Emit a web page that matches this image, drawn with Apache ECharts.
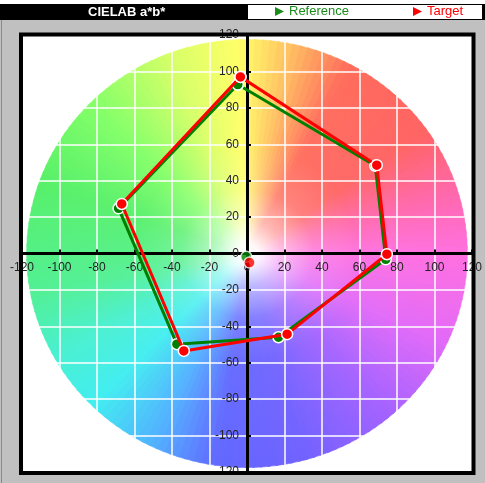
<!DOCTYPE html>
<html>
<head>
<meta charset="utf-8">
<script src="https://cdn.jsdelivr.net/npm/echarts@6/dist/echarts.min.js"></script>
<style>
html,body{margin:0;padding:0;background:#c0c0c0;}
#chart{width:485px;height:483px;}
</style>
</head>
<body>
<div id="chart"></div>
<script>
// ---- data (CIELAB a*, b*) ----
const refA = [-4.9, 68.4, 74.0, 16.8, -37.4, -68.5];
const refB = [92.8, 48.2, -3.2, -46.0, -49.8, 24.8];
const tgtA = [-3.5, 69.2, 74.6, 21.4, -33.7, -66.8];
const tgtB = [97.0, 48.5, -0.4, -44.3, -53.5, 27.2];
const refWhite = [-0.4, -1.8];
const tgtWhite = [1.3, -5.0];
const axisMin = -120, axisMax = 120, axisStep = 20;
const wheelRadius = 117.5;
// hue keyframes for the background colour wheel: [angle deg, colour]
const hueStops = [
  [0,'#ff70e0'],[18,'#ff68a8'],[35,'#ff6464'],[62,'#ff6c5c'],[78,'#ffbe62'],
  [92,'#ffff68'],[110,'#d8ff68'],[135,'#84ff68'],[160,'#58f06a'],[190,'#52f094'],
  [208,'#4af0d0'],[225,'#42eef0'],[245,'#52b0ff'],[262,'#6268ff'],[285,'#7262ff'],
  [310,'#a462ff'],[335,'#e26af8'],[360,'#ff70e0']
];

function hex2rgb(h){return [parseInt(h.substr(1,2),16),parseInt(h.substr(3,2),16),parseInt(h.substr(5,2),16)];}
function hueColor(deg){
  deg = ((deg%360)+360)%360;
  for(let i=0;i<hueStops.length-1;i++){
    const a=hueStops[i], b=hueStops[i+1];
    if(deg>=a[0] && deg<=b[0]){
      const t=(deg-a[0])/(b[0]-a[0]);
      const c1=hex2rgb(a[1]), c2=hex2rgb(b[1]);
      const c=c1.map((v,k)=>Math.round(v+(c2[k]-v)*t));
      return 'rgb('+c.join(',')+')';
    }
  }
  return hueStops[0][1];
}

const zip = (xs, ys) => xs.map((x,i)=>[x, ys[i]]);
const closed = arr => arr.concat([arr[0]]);

const GREEN = '#008000', RED = '#ff0000';
const FONT = '"Liberation Sans", Arial, sans-serif';

const gridL = 22, gridT = 35, gridW = 450, gridH = 437;

const chart = echarts.init(document.getElementById('chart'));

function renderWheel(params, api){
  const c = api.coord([0,0]);
  const s = api.size([wheelRadius, wheelRadius]);
  const rx = s[0], ry = s[1];
  const N = 180, step = Math.PI*2/N;
  const children = [];
  for(let i=0;i<N;i++){
    const a1 = i*step, a2 = (i+1)*step + 0.01;
    const mid = (i+0.5)*step;
    const hue = -mid*180/Math.PI;
    const col = hueColor(hue);
    children.push({type:'sector', shape:{cx:0,cy:0,r0:0,r:rx,startAngle:a1,endAngle:a2,clockwise:true},
      style:{fill:col, stroke:col, lineWidth:0.6}});
  }
  children.push({type:'circle', shape:{cx:0,cy:0,r:rx+0.5}, style:{fill:{
    type:'radial', x:0.5, y:0.5, r:0.5, colorStops:[
      {offset:0, color:'rgba(255,255,255,1)'},
      {offset:0.05, color:'rgba(255,255,255,0.95)'},
      {offset:0.15, color:'rgba(255,255,255,0.55)'},
      {offset:0.3, color:'rgba(255,255,255,0.18)'},
      {offset:0.5, color:'rgba(255,255,255,0.04)'},
      {offset:1, color:'rgba(255,255,255,0)'}]}}});
  return {type:'group', x:c[0], y:c[1], scaleX:1, scaleY:ry/rx, children:children};
}

const axisCommon = {
  type:'value', min:axisMin, max:axisMax, interval:axisStep, z:3,
  axisLine:{onZero:false, lineStyle:{color:'#000', width:3}},
  axisTick:{show:true, inside:true, length:4, lineStyle:{color:'#000', width:2}},
  splitLine:{show:true, lineStyle:{color:'#ffffff', width:1.5}},
  axisLabel:{color:'#222', fontSize:12, fontFamily:FONT, showMinLabel:true, showMaxLabel:true, margin:8},
};

const option = {
  backgroundColor:'#c0c0c0',
  animation:false,
  title:{text:'CIELAB a*b*', left:88, top:5, padding:0, z:30,
    textStyle:{color:'#fff', fontSize:13, fontWeight:'bold', fontFamily:FONT, lineHeight:14}},
  legend:{left:275, top:5, padding:0, itemWidth:9, itemHeight:10, itemGap:64, z:30,
    textStyle:{fontSize:13, fontFamily:FONT},
    itemStyle:{borderWidth:0},
    data:[
      {name:'Reference', icon:'path://M0,0L10,5L0,10Z', itemStyle:{color:'#1a8c1a'}, textStyle:{color:'#1a8c1a'}},
      {name:'Target', icon:'path://M0,0L10,5L0,10Z', itemStyle:{color:RED}, textStyle:{color:RED}}
    ]},
  grid:{left:gridL, top:gridT, width:gridW, height:gridH, show:true, backgroundColor:'#ffffff', borderWidth:0,
    containLabel:false, outerBoundsMode:'none'},
  xAxis:Object.assign({}, axisCommon, {position:'bottom', offset:-gridH/2}),
  yAxis:Object.assign({}, axisCommon, {position:'left', offset:-gridW/2}),
  graphic:[
    {type:'rect', shape:{x:0,y:0,width:485,height:4}, style:{fill:'#ffffff'}, z:1},
    {type:'rect', shape:{x:0,y:4,width:485,height:16}, style:{fill:'#000000'}, z:1},
    {type:'rect', shape:{x:248,y:5,width:234,height:14}, style:{fill:'#ffffff'}, z:2},
    {type:'line', shape:{x1:1.5,y1:20,x2:1.5,y2:483}, style:{stroke:'#8a8a8a', lineWidth:1}, z:2},
    {type:'rect', shape:{x:gridL-1, y:gridT-0.5, width:gridW+2.5, height:gridH+1.5},
      style:{fill:'none', stroke:'#000', lineWidth:4}, z:100}
  ],
  series:[
    {type:'custom', name:'wheel', coordinateSystem:'cartesian2d', data:[[0,0]], renderItem:renderWheel,
      z:1, silent:true, clip:false},
    {type:'line', name:'Reference', data:closed(zip(refA, refB)), z:5,
      lineStyle:{color:GREEN, width:3}, itemStyle:{color:GREEN, borderColor:'#fff', borderWidth:1.5},
      symbol:'circle', symbolSize:11, showAllSymbol:true},
    {type:'scatter', name:'Reference', data:[refWhite], z:5,
      itemStyle:{color:GREEN, borderColor:'#fff', borderWidth:1.5}, symbolSize:11},
    {type:'line', name:'Target', data:closed(zip(tgtA, tgtB)), z:6,
      lineStyle:{color:RED, width:3}, itemStyle:{color:RED, borderColor:'#fff', borderWidth:1.5},
      symbol:'circle', symbolSize:11, showAllSymbol:true},
    {type:'scatter', name:'Target', data:[tgtWhite], z:6,
      itemStyle:{color:RED, borderColor:'#fff', borderWidth:1.5}, symbolSize:11}
  ]
};
chart.setOption(option);
</script>
</body>
</html>
